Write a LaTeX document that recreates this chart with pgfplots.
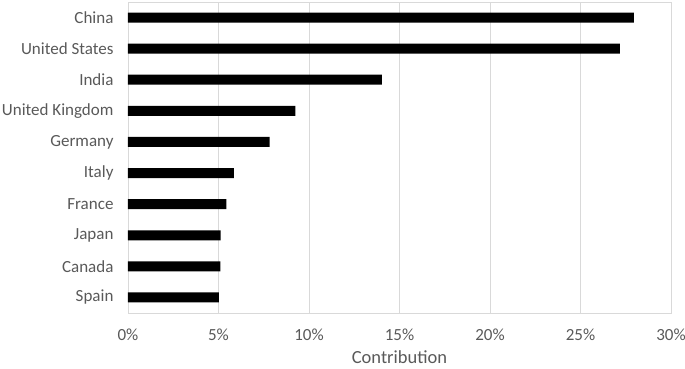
\documentclass[border=0pt]{standalone}
\usepackage{fontspec}
\setmainfont{Carlito}
\usepackage{pgfplots}
\pgfplotsset{compat=1.18}
\definecolor{txt}{HTML}{595959}
\definecolor{grd}{HTML}{D9D9D9}
\begin{document}
\begin{tikzpicture}
\path[use as bounding box] (-128pt,-55pt) rectangle (557pt,313pt);
\begin{axis}[
  at={(0,0)}, anchor=south west,
  scale only axis, width=543pt, height=311pt,
  xbar, bar width=10pt,
  xmin=0, xmax=30,
  ymin=-0.5, ymax=9.5,
  xtick={0,5,10,15,20,25,30},
  xticklabels={0\%,5\%,10\%,15\%,20\%,25\%,30\%},
  ytick={0,...,9},
  yticklabels={Spain,Canada,Japan,France,Italy,Germany,United Kingdom,India,United States,China},
  xmajorgrids, major grid style={grd, line width=0.8pt},
  axis line style={grd, line width=0.8pt},
  major tick length=0pt,
  tick label style={font=\fontsize{17}{20}\selectfont, text=txt},
  xticklabel style={yshift=-12pt},
  yticklabel style={xshift=-11pt},
  xlabel={Contribution},
  xlabel style={font=\fontsize{18.5}{22}\selectfont, text=txt, inner sep=0.5pt, yshift=-6pt},
  /pgf/number format/assume math mode=true,
]
\addplot[fill=black, draw=none] coordinates {
(5.02,0) (5.10,1) (5.12,2) (5.43,3) (5.85,4) (7.83,5) (9.25,6) (14.03,7) (27.17,8) (27.95,9)
};
\end{axis}
\end{tikzpicture}
\end{document}
